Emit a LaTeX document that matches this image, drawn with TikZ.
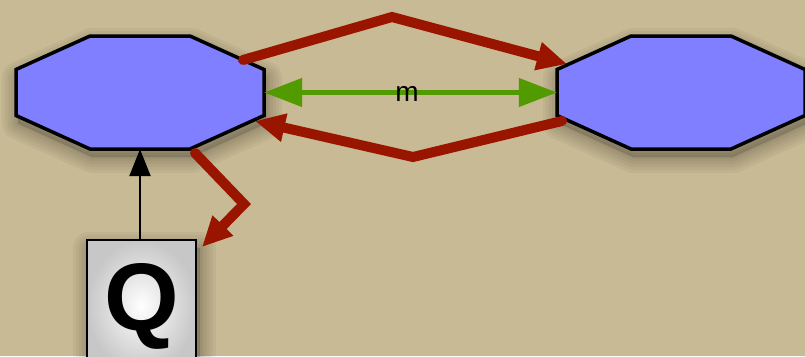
\documentclass[tikz,border=0pt]{standalone}
\usepackage{fontspec}
\setmainfont{Liberation Sans}
\usetikzlibrary{arrows.meta,calc}
\definecolor{bgtan}{HTML}{C8BA94}
\definecolor{octblue}{HTML}{7F7FFF}
\definecolor{redarr}{HTML}{9A1500}
\definecolor{greenarr}{HTML}{519A00}
\newcommand\octo[1]{($(#1)+(-50,-56.5)$) -- ($(#1)+(50,-56.5)$) -- ($(#1)+(124,-23)$) -- ($(#1)+(124,23)$) -- ($(#1)+(50,56.5)$) -- ($(#1)+(-50,56.5)$) -- ($(#1)+(-124,23)$) -- ($(#1)+(-124,-23)$) -- cycle}
\tikzset{
  hub/.style={rectangle,minimum width=248pt,minimum height=113pt,inner sep=0pt},
  octfill/.style={fill=octblue,draw=black,line width=3.5pt,line join=miter},
  qbox/.style={rectangle,draw=black,line width=2.5pt,minimum width=109pt,minimum height=132pt,inner sep=0pt,
    inner color=white,outer color=black!22,font=\fontsize{96}{96}\selectfont\bfseries},
  redline/.style={draw=redarr,line width=10pt,line cap=round,line join=miter,-{Triangle[length=30pt,width=27pt]}},
  greenline/.style={draw=greenarr,line width=4.5pt,{Triangle[length=38pt,width=28pt]}-{Triangle[length=38pt,width=28pt]}},
  blackline/.style={draw=black,line width=2.5pt,-{Triangle[length=27pt,width=21pt]}},
  lbl/.style={font=\fontsize{28}{30}\selectfont,inner sep=0pt},
  shd/.style={black,opacity=0.04,line join=round}
}
\begin{document}
\begin{tikzpicture}[x=1pt,y=-1pt]
\useasboundingbox (0,0) rectangle (805,356);
\clip (0,0) rectangle (805,356);
\fill[bgtan] (0,0) rectangle (805,356);
% nodes
\node[hub] (L) at (140,92.5) {};
\node[hub] (R) at (681,92.5) {};
\coordinate (Ls) at ($(L)+(2,8)$);
\coordinate (Rs) at ($(R)+(2,8)$);
% soft shadows
\foreach \w in {32,26,20,14,8,3}{
  \draw[shd,line width=\w pt] \octo{Ls};
  \draw[shd,line width=\w pt] \octo{Rs};
  \draw[shd,line width=\w pt] (89,248) rectangle (200,380);
}
\fill[black,opacity=0.15] \octo{Ls};
\fill[black,opacity=0.15] \octo{Rs};
\fill[black,opacity=0.15] (89,248) rectangle (200,380);
% octagons
\path[octfill] \octo{L};
\path[octfill] \octo{R};
% Q box
\node[qbox] (Q) at (141.5,306) {Q};
% connector points
\coordinate (a1) at (243,60);
\coordinate (a2) at (392,17);
\coordinate (a3) at (567,64);
\coordinate (b1) at (562,121);
\coordinate (b2) at (413,157);
\coordinate (b3) at (255,121);
\coordinate (c1) at (195,153);
\coordinate (c2) at (244,204);
\coordinate (c3) at (202,247);
% connectors
\draw[redline] (a1) -- (a2) -- (a3);
\draw[redline] (b1) -- (b2) -- (b3);
\draw[redline] (c1) -- (c2) -- (c3);
\draw[greenline] (L.east) -- (R.west);
\node[lbl] (m) at (407,94) {m};
\draw[blackline] (Q.north -| L.south) -- (L.south);
\end{tikzpicture}
\end{document}
